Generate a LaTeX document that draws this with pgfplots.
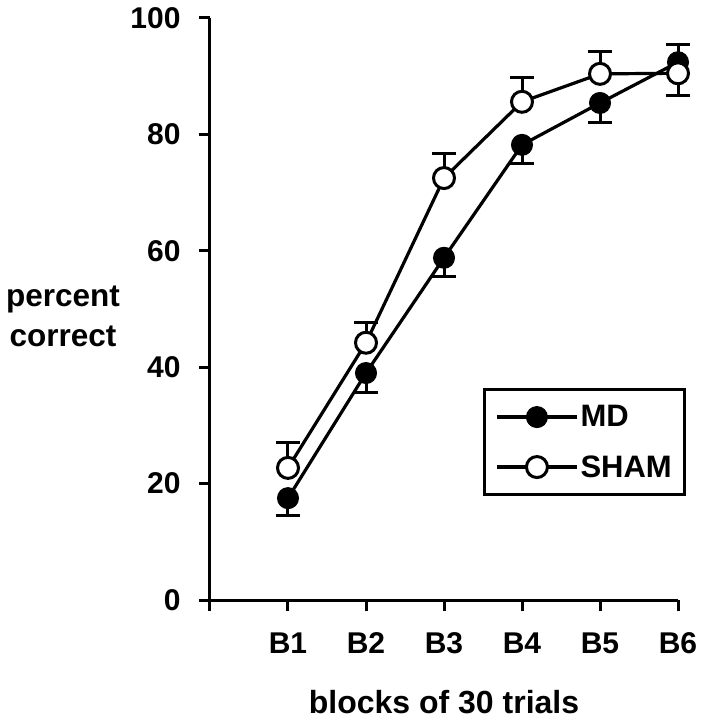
\documentclass[border=0pt]{standalone}
\usepackage{fontspec}
\setmainfont{Liberation Sans}
\usepackage{pgfplots}
\pgfplotsset{compat=1.18}
\begin{document}
\begin{tikzpicture}
\begin{axis}[
  at={(0,0)}, anchor=south west,
  scale only axis, width=468pt, height=582pt,
  xmin=0, xmax=6, ymin=0, ymax=100,
  axis x line*=bottom, axis y line*=left,
  xtick={0,1,...,6}, xticklabels={,B1,B2,B3,B4,B5,B6},
  ytick={0,20,...,100},
  tick align=outside, major tick length=11pt,
  tick style={line width=3pt, black},
  axis line style={line width=3pt},
  /pgf/number format/assume math mode=true,
  ticklabel style={font=\bfseries\fontsize{30}{34}\selectfont},
  yticklabel style={xshift=-15pt},
  xticklabel style={yshift=-18pt},
  xlabel={blocks of 30 trials},
  xlabel style={at={(axis description cs:0.5,-0.175)}, anchor=center, font=\bfseries\fontsize{32}{36}\selectfont},
  legend style={at={(axis description cs:0.583,0.364)}, anchor=north west,
    draw=black, line width=3pt, font=\bfseries\fontsize{31}{35}\selectfont,
    inner xsep=11pt, inner ysep=14pt, row sep=23pt, cells={anchor=west}},
  legend image code/.code={\draw[mark repeat=2,mark phase=2,#1] plot coordinates {(0pt,0pt) (40pt,0pt) (80pt,0pt)};},
  clip=false,
]
\addplot[black, line width=3.2pt, mark=*, mark size=10.5pt,
  mark options={fill=black, line width=1pt},
  error bars/.cd, y dir=both, y explicit,
  error bar style={line width=3pt},
  error mark options={rotate=90, mark size=12pt, line width=3pt}]
  coordinates {
  (1,17.5) -= (0,2.9)
  (2,39.0) -= (0,3.4)
  (3,58.8) -= (0,3.3)
  (4,78.2) -= (0,3.2)
  (5,85.4) -= (0,3.4)
  (6,92.4) += (0,3.1)
  };
\addlegendentry{MD}
\addplot[black, line width=3.2pt, mark=*, mark size=10.5pt,
  mark options={fill=white, line width=3pt},
  error bars/.cd, y dir=both, y explicit,
  error bar style={line width=3pt},
  error mark options={rotate=90, mark size=12pt, line width=3pt}]
  coordinates {
  (1,22.7) += (0,4.3)
  (2,44.2) += (0,3.4)
  (3,72.5) += (0,4.3)
  (4,85.6) += (0,4.2)
  (5,90.4) += (0,3.8)
  (6,90.5) -= (0,3.9)
  };
\addlegendentry{SHAM}
\node[font=\bfseries\fontsize{31.5}{40}\selectfont, align=center] at (axis description cs:-0.314,0.488) {percent\\correct};
\end{axis}
\pgfresetboundingbox
\path[use as bounding box] (-210pt,-119pt) rectangle (493pt,600pt);
\end{tikzpicture}
\end{document}
